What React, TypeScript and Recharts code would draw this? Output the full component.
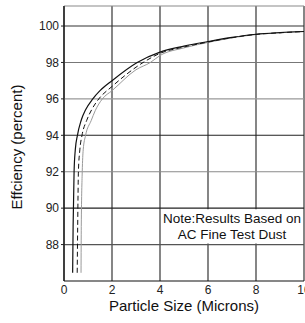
import {
  LineChart,
  Line,
  XAxis,
  YAxis,
  CartesianGrid,
  ReferenceLine,
  ReferenceArea,
} from "recharts";

// x ticks (microns) and y ticks (percent)
const xTicks = [0, 2, 4, 6, 8, 10];
const yTicks = [88, 90, 92, 94, 96, 98, 100];

// horizontal grid lines and their shade as they appear in the scan
const hLines = [
  { y: 88, color: "#555" },
  { y: 90, color: "#222" },
  { y: 92, color: "#8a8a8a" },
  { y: 94, color: "#222" },
  { y: 96, color: "#999" },
  { y: 98, color: "#777" },
  { y: 100, color: "#333" },
];

// solid curve (leftmost)
const solidX = [0.36, 0.38, 0.42, 0.47, 0.56, 0.71, 0.9, 1.2, 1.5, 2, 3.05, 4, 5, 6, 7, 8, 9, 10];
const solidY = [86.45, 89, 92, 93.2, 94, 94.8, 95.4, 96, 96.45, 97, 98, 98.57, 98.9, 99.15, 99.38, 99.55, 99.64, 99.7];

// dashed curve (middle)
const dashX = [0.55, 0.57, 0.6, 0.66, 0.75, 0.94, 1.15, 1.45, 2, 3.3, 4, 5, 6, 7, 8, 9, 10];
const dashY = [86.45, 89, 92, 93.2, 94, 94.8, 95.4, 96, 96.68, 98, 98.5, 98.85, 99.12, 99.36, 99.54, 99.63, 99.7];

// thin gray curve (rightmost)
const grayX = [0.71, 0.72, 0.76, 0.8, 0.9, 1.13, 1.3, 1.6, 2, 3, 3.6, 4, 5, 6, 7, 8, 9, 10];
const grayY = [86.45, 89, 92, 93.2, 94, 94.8, 95.35, 96, 96.45, 97.6, 98, 98.38, 98.8, 99.1, 99.35, 99.53, 99.63, 99.7];

const toPoints = (xs: number[], ys: number[]) => xs.map((x, i) => ({ x, y: ys[i] }));

const FONT = "'Liberation Sans', Arial, sans-serif";

function NoteLabel(props: any) {
  const vb = props.viewBox || {};
  const cx = vb.x + vb.width / 2;
  const top = vb.y;
  return (
    <text fontFamily={FONT} fontSize={13.5} fill="#111" textAnchor="middle">
      <tspan x={cx} y={top + 14}>Note:Results Based on</tspan>
      <tspan x={cx} y={top + 30}>AC Fine Test Dust</tspan>
    </text>
  );
}

export default function App() {
  return (
    <div style={{ position: "absolute", left: 0, top: 0, background: "#fff" }}>
      <LineChart
        width={305}
        height={323}
        margin={{ top: 6, right: 1, left: 0, bottom: 0 }}
      >
        <CartesianGrid horizontal={false} stroke="#222" strokeWidth={1.1} />
        {hLines.map((h) => (
          <ReferenceLine key={h.y} y={h.y} stroke={h.color} strokeWidth={1.1} />
        ))}
        <ReferenceLine y={101.1} stroke="#8a8a8a" strokeWidth={1.2} />
        <ReferenceArea
          x1={4.06}
          x2={9.94}
          y1={88.06}
          y2={89.94}
          fill="#fff"
          fillOpacity={1}
          stroke="none"
          label={{ content: NoteLabel }}
        />
        <XAxis
          type="number"
          dataKey="x"
          domain={[0, 10]}
          ticks={xTicks}
          allowDataOverflow
          height={42}
          axisLine={{ stroke: "#111", strokeWidth: 1.2 }}
          tickLine={false}
          tickSize={3}
          tickMargin={1}
          tick={{ fontSize: 12, fill: "#222", fontFamily: FONT }}
          interval={0}
          label={{
            content: (p: any) => {
              const vb = p.viewBox;
              return (
                <text
                  x={vb.x + vb.width / 2}
                  y={vb.y + 30}
                  textAnchor="middle"
                  fontSize={15}
                  fontFamily={FONT}
                  fill="#111"
                >
                  Particle Size (Microns)
                </text>
              );
            },
          }}
        />
        <YAxis
          type="number"
          dataKey="y"
          domain={[86, 101.1]}
          ticks={yTicks}
          allowDataOverflow
          width={64}
          axisLine={{ stroke: "#111", strokeWidth: 1.2 }}
          tickLine={{ stroke: "#222" }}
          tickSize={3}
          tickMargin={2}
          tick={{ fontSize: 12, fill: "#222", fontFamily: FONT }}
          interval={0}
          label={{
            content: () => (
              <text
                x={22}
                y={147}
                transform="rotate(-90 22 147)"
                textAnchor="middle"
                fontSize={15}
                fontFamily={FONT}
                fill="#111"
              >
                Effciency (percent)
              </text>
            ),
          }}
        />
        <Line
          data={toPoints(grayX, grayY)}
          dataKey="y"
          type="monotone"
          stroke="#9a9a9a"
          strokeWidth={1}
          dot={false}
          isAnimationActive={false}
        />
        <Line
          data={toPoints(dashX, dashY)}
          dataKey="y"
          type="monotone"
          stroke="#111"
          strokeWidth={1}
          strokeDasharray="5 3"
          dot={false}
          isAnimationActive={false}
        />
        <Line
          data={toPoints(solidX, solidY)}
          dataKey="y"
          type="monotone"
          stroke="#111"
          strokeWidth={1.2}
          dot={false}
          isAnimationActive={false}
        />
      </LineChart>
    </div>
  );
}
